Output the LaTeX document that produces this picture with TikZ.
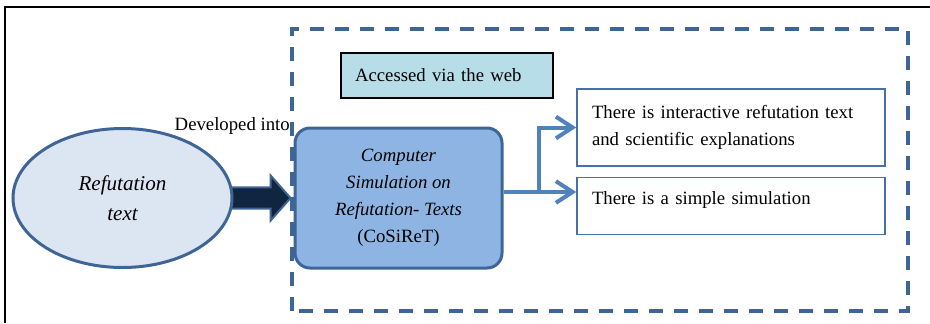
\documentclass[tikz,border=0pt]{standalone}
\usepackage{fontspec}
\setmainfont{Liberation Serif}
\usetikzlibrary{arrows.meta,positioning,shapes.geometric,backgrounds}
\definecolor{frameblue}{HTML}{3F6597}
\definecolor{ellfill}{HTML}{DCE6F2}
\definecolor{simfill}{HTML}{8EB4E3}
\definecolor{webfill}{HTML}{B7DEE8}
\definecolor{navy}{HTML}{10253F}
\definecolor{linkblue}{HTML}{4F81BD}
\definecolor{boxblue}{HTML}{4A6EA9}

\begin{document}
\begin{tikzpicture}[
				x=0.3mm, y=0.3mm,
				font=\fontsize{16}{23}\selectfont,
				ellnode/.style = {draw=frameblue, line width=0.9mm, fill=ellfill, ellipse, minimum width=65.7mm, minimum height=41.7mm, inner sep=0pt, align=center, font=\fontsize{18}{25.6}\selectfont\itshape},
				simbox/.style = {draw=frameblue, line width=0.9mm, fill=simfill, rounded corners=4.5mm, minimum width=62.1mm, minimum height=42mm, align=center},
				webbox/.style = {draw=black, line width=0.5mm, fill=webfill, text width=55.2mm, inner xsep=4.2mm, minimum height=13.5mm, align=left},
				featbox/.style = {draw=boxblue, line width=0.45mm, text width=83.4mm, inner xsep=4.5mm, align=left},
				conn/.style = {draw=linkblue, line width=1.2mm},
				arrow/.style = {conn, -{Straight Barb[length=5mm, width=6.5mm]}},
				blockarrow/.style = {draw=frameblue, line width=0.6mm, fill=navy},
				webframe/.style = {draw=frameblue, line width=1mm, dash pattern=on 4.2mm off 3.3mm}
				]
				\useasboundingbox (0,0) rectangle (930,323);
				
				\draw[line width=0.6mm] (5,0) -- (5,316) -- (930,316);
				\draw[webframe] (292,12) rectangle (908,294);
				
				\node[ellnode] (ref) at (122.5,125) {Refutation\\text};
				\node[simbox] (sim) at (398.5,125) {\textit{Computer}\\\textit{Simulation on}\\\textit{Refutation- Texts}\\(CoSiReT)};
				\node[webbox] (web) at (447,247.5) {Accessed via the web};
				\node[featbox, minimum height=23.1mm] (feat1) at (731,195.5) {There is interactive refutation text\\and scientific explanations};
				\node[featbox, below=3mm of feat1, text height=8.1mm, text depth=9mm, inner ysep=0pt] (feat2) {There is a simple simulation};
				\node[anchor=base east, inner sep=0pt] (dev) at (290,193) {Developed into};
				
				\begin{scope}[on background layer]
					\draw[blockarrow] ([xshift=-2mm, yshift=3.2mm]ref.east) -- ([xshift=-6.9mm, yshift=3.2mm]sim.west) -- ([xshift=-6.9mm, yshift=6.8mm]sim.west) -- ([xshift=-0.9mm]sim.west) -- ([xshift=-6.9mm, yshift=-6.8mm]sim.west) -- ([xshift=-6.9mm, yshift=-3.2mm]sim.west) -- ([xshift=-2mm, yshift=-3.2mm]ref.east) -- cycle;
				\end{scope}
				
				\coordinate (split) at (539,131);
				\draw[conn] (sim.east |- split) -- (split);
				\draw[arrow] (split) |- (feat1.west);
				\draw[arrow] (split) -- (feat2.west |- split);
			\end{tikzpicture}
\end{document}
